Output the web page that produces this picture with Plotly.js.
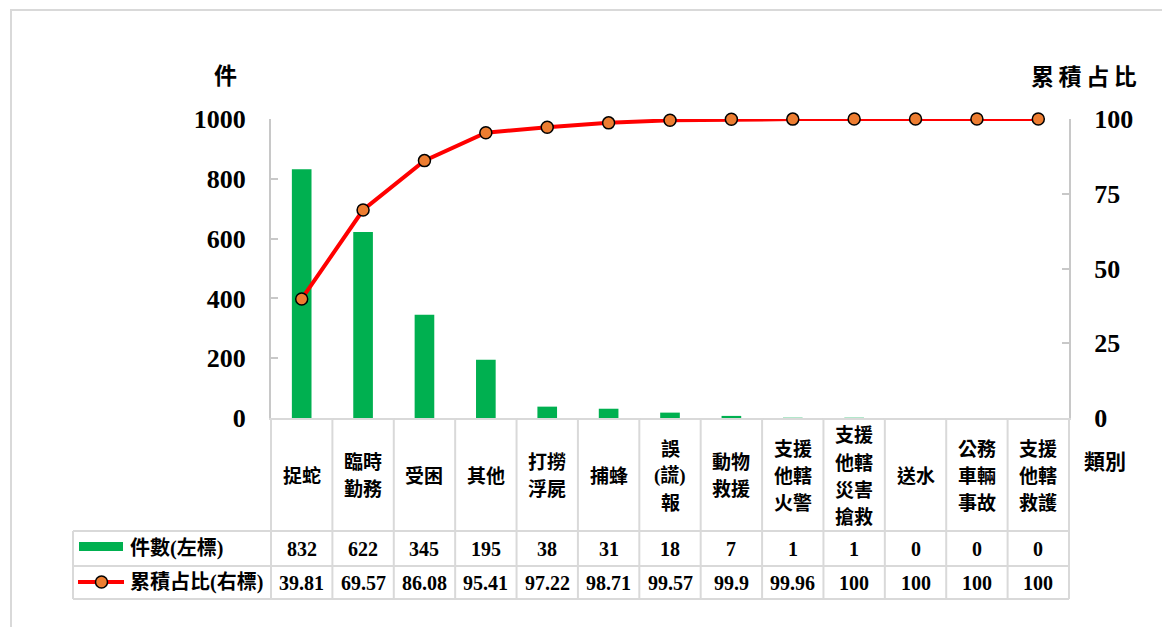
<!DOCTYPE html>
<html>
<head>
<meta charset="utf-8">
<script src="https://cdn.plot.ly/plotly-3.0.1.min.js"></script>
<style>
  html, body { margin: 0; padding: 0; background: #fff; }
  #chart { width: 1162px; height: 627px; }
</style>
</head>
<body>
<div id="chart"></div>
<script>
// Categories (line breaks as set in the data table)
const categories = [
  '捉蛇', '臨時<br>勤務', '受困', '其他', '打撈<br>浮屍', '捕蜂',
  '誤<br>(謊)<br>報', '動物<br>救援', '支援<br>他轄<br>火警',
  '支援<br>他轄<br>災害<br>搶救', '送水', '公務<br>車輛<br>事故', '支援<br>他轄<br>救護'
];
// Case counts (left axis)
const counts = [832, 622, 345, 195, 38, 31, 18, 7, 1, 1, 0, 0, 0];
// Cumulative share, % (right axis)
const cumulative = [39.81, 69.57, 86.08, 95.41, 97.22, 98.71, 99.57, 99.9, 99.96, 100, 100, 100, 100];
// Series and axis labels
const countName = '件數(左標)';
const cumName = '累積占比(右標)';
const leftTitle = '件';
const rightTitle = '累\u2009積\u2009占\u2009比';
const categoryTitle = '類別';

// Page geometry in pixels
const W = 1162, H = 627;
const L = 271, R = 1069, T = 119, B = 418;
const px2x = px => (px - L) / (R - L);
const py2y = py => (B - py) / (B - T);

const FONT = 'Liberation Serif, "Noto Sans CJK TC", serif';
const GRID = '#D9D9D9';
const AXIS = '#C8C8C8';
const n = categories.length;

// Table rows (pixel positions)
const legendLeft = 73;
const rowTop = 531, rowMid = 566, rowBottom = 599;
const labelCenter = 476, labelPitch = 27;

const shapes = [];
const annotations = [];

// Outer frame
shapes.push({type: 'rect', xref: 'paper', yref: 'paper',
  x0: px2x(11), x1: px2x(W + 20), y0: py2y(10), y1: py2y(H + 20),
  line: {color: GRID, width: 2}, fillcolor: 'rgba(0,0,0,0)', layer: 'below'});

// Table grid: column boundaries follow the category axis (range -0.5 .. n-0.5)
for (let i = 0; i <= n; i++) {
  shapes.push({type: 'line', xref: 'paper', yref: 'paper',
    x0: i / n, x1: i / n, y0: 0, y1: py2y(rowBottom),
    line: {color: GRID, width: 2}});
}
shapes.push({type: 'line', xref: 'paper', yref: 'paper',
  x0: px2x(legendLeft), x1: px2x(legendLeft), y0: py2y(rowTop), y1: py2y(rowBottom),
  line: {color: GRID, width: 2}});
[rowTop, rowMid, rowBottom].forEach(py => {
  shapes.push({type: 'line', xref: 'paper', yref: 'paper',
    x0: px2x(legendLeft), x1: 1, y0: py2y(py), y1: py2y(py),
    line: {color: GRID, width: 2}});
});

// Legend keys inside the table
shapes.push({type: 'rect', xref: 'paper', yref: 'paper',
  x0: px2x(79), x1: px2x(123), y0: py2y(551), y1: py2y(542),
  fillcolor: '#00B050', line: {width: 0}});
shapes.push({type: 'line', xref: 'paper', yref: 'paper',
  x0: px2x(78), x1: px2x(124), y0: py2y(582), y1: py2y(582),
  line: {color: '#FF0000', width: 4}});
shapes.push({type: 'circle', xref: 'paper', yref: 'paper',
  x0: px2x(95.5), x1: px2x(107.5), y0: py2y(588), y1: py2y(576),
  fillcolor: '#ED7D31', line: {color: '#000', width: 1.5}});

const cellFont = {family: FONT, size: 20, color: '#000', weight: 700};
const rowY1 = (rowTop + rowMid) / 2, rowY2 = (rowMid + rowBottom) / 2;

annotations.push({xref: 'paper', yref: 'paper', x: px2x(128), y: py2y(rowY1),
  xanchor: 'left', yanchor: 'middle', text: countName, showarrow: false, font: cellFont});
annotations.push({xref: 'paper', yref: 'paper', x: px2x(128), y: py2y(rowY2),
  xanchor: 'left', yanchor: 'middle', text: cumName, showarrow: false, font: cellFont});

categories.forEach((cat, i) => {
  const lines = cat.split('<br>');
  const top = labelCenter - (lines.length - 1) * labelPitch / 2;
  lines.forEach((ln, k) => {
    annotations.push({xref: 'x', yref: 'paper', x: i, y: py2y(top + k * labelPitch),
      xanchor: 'center', yanchor: 'middle', text: ln, showarrow: false,
      font: {family: FONT, size: 19, color: '#000', weight: 700}});
  });
  annotations.push({xref: 'x', yref: 'paper', x: i, y: py2y(rowY1),
    xanchor: 'center', yanchor: 'middle', text: String(counts[i]), showarrow: false, font: cellFont});
  annotations.push({xref: 'x', yref: 'paper', x: i, y: py2y(rowY2),
    xanchor: 'center', yanchor: 'middle', text: String(cumulative[i]), showarrow: false, font: cellFont});
});

// Axis titles
annotations.push({xref: 'paper', yref: 'paper', x: px2x(225), y: py2y(76),
  xanchor: 'center', yanchor: 'middle', text: leftTitle, showarrow: false,
  font: {family: FONT, size: 23, color: '#000', weight: 700}});
annotations.push({xref: 'paper', yref: 'paper', x: px2x(1084), y: py2y(77),
  xanchor: 'center', yanchor: 'middle', text: rightTitle, showarrow: false,
  font: {family: FONT, size: 23, color: '#000', weight: 700}});
annotations.push({xref: 'paper', yref: 'paper', x: px2x(1105), y: py2y(462),
  xanchor: 'center', yanchor: 'middle', text: categoryTitle, showarrow: false,
  font: {family: FONT, size: 21, color: '#000', weight: 700}});

const tickFont = {family: FONT, size: 26, color: '#000', weight: 700};

const data = [
  {type: 'bar', name: countName, x: categories, y: counts, yaxis: 'y',
   width: 0.32, marker: {color: '#00B050', line: {width: 0}}, hoverinfo: 'x+y'},
  {type: 'scatter', mode: 'lines+markers', name: cumName, x: categories, y: cumulative, yaxis: 'y2',
   line: {color: '#FF0000', width: 4},
   marker: {color: '#ED7D31', size: 12, line: {color: '#000', width: 1.5}}, cliponaxis: false}
];

const layout = {
  width: W, height: H,
  margin: {l: L, r: W - R, t: T, b: H - B, pad: 0},
  paper_bgcolor: '#fff', plot_bgcolor: '#fff',
  showlegend: false,
  xaxis: {type: 'category', range: [-0.5, n - 0.5], showticklabels: false, ticks: '',
          showgrid: false, zeroline: false, showline: true, linecolor: GRID, linewidth: 2,
          fixedrange: true},
  yaxis: {range: [0, 1000], dtick: 200, tick0: 0, ticks: 'inside', ticklen: 7, tickwidth: 2,
          tickcolor: AXIS, showline: true, linecolor: AXIS, linewidth: 2, showgrid: false,
          zeroline: false, tickfont: tickFont, ticklabelstandoff: 18, fixedrange: true},
  yaxis2: {range: [0, 100], dtick: 25, tick0: 0, overlaying: 'y', side: 'right', ticks: 'inside',
          ticklen: 7, tickwidth: 2, tickcolor: AXIS, showline: true, linecolor: AXIS, linewidth: 2,
          showgrid: false, zeroline: false, tickfont: tickFont, ticklabelstandoff: 18, fixedrange: true},
  shapes: shapes,
  annotations: annotations
};

Plotly.newPlot('chart', data, layout, {displayModeBar: false, staticPlot: true});
</script>
</body>
</html>
